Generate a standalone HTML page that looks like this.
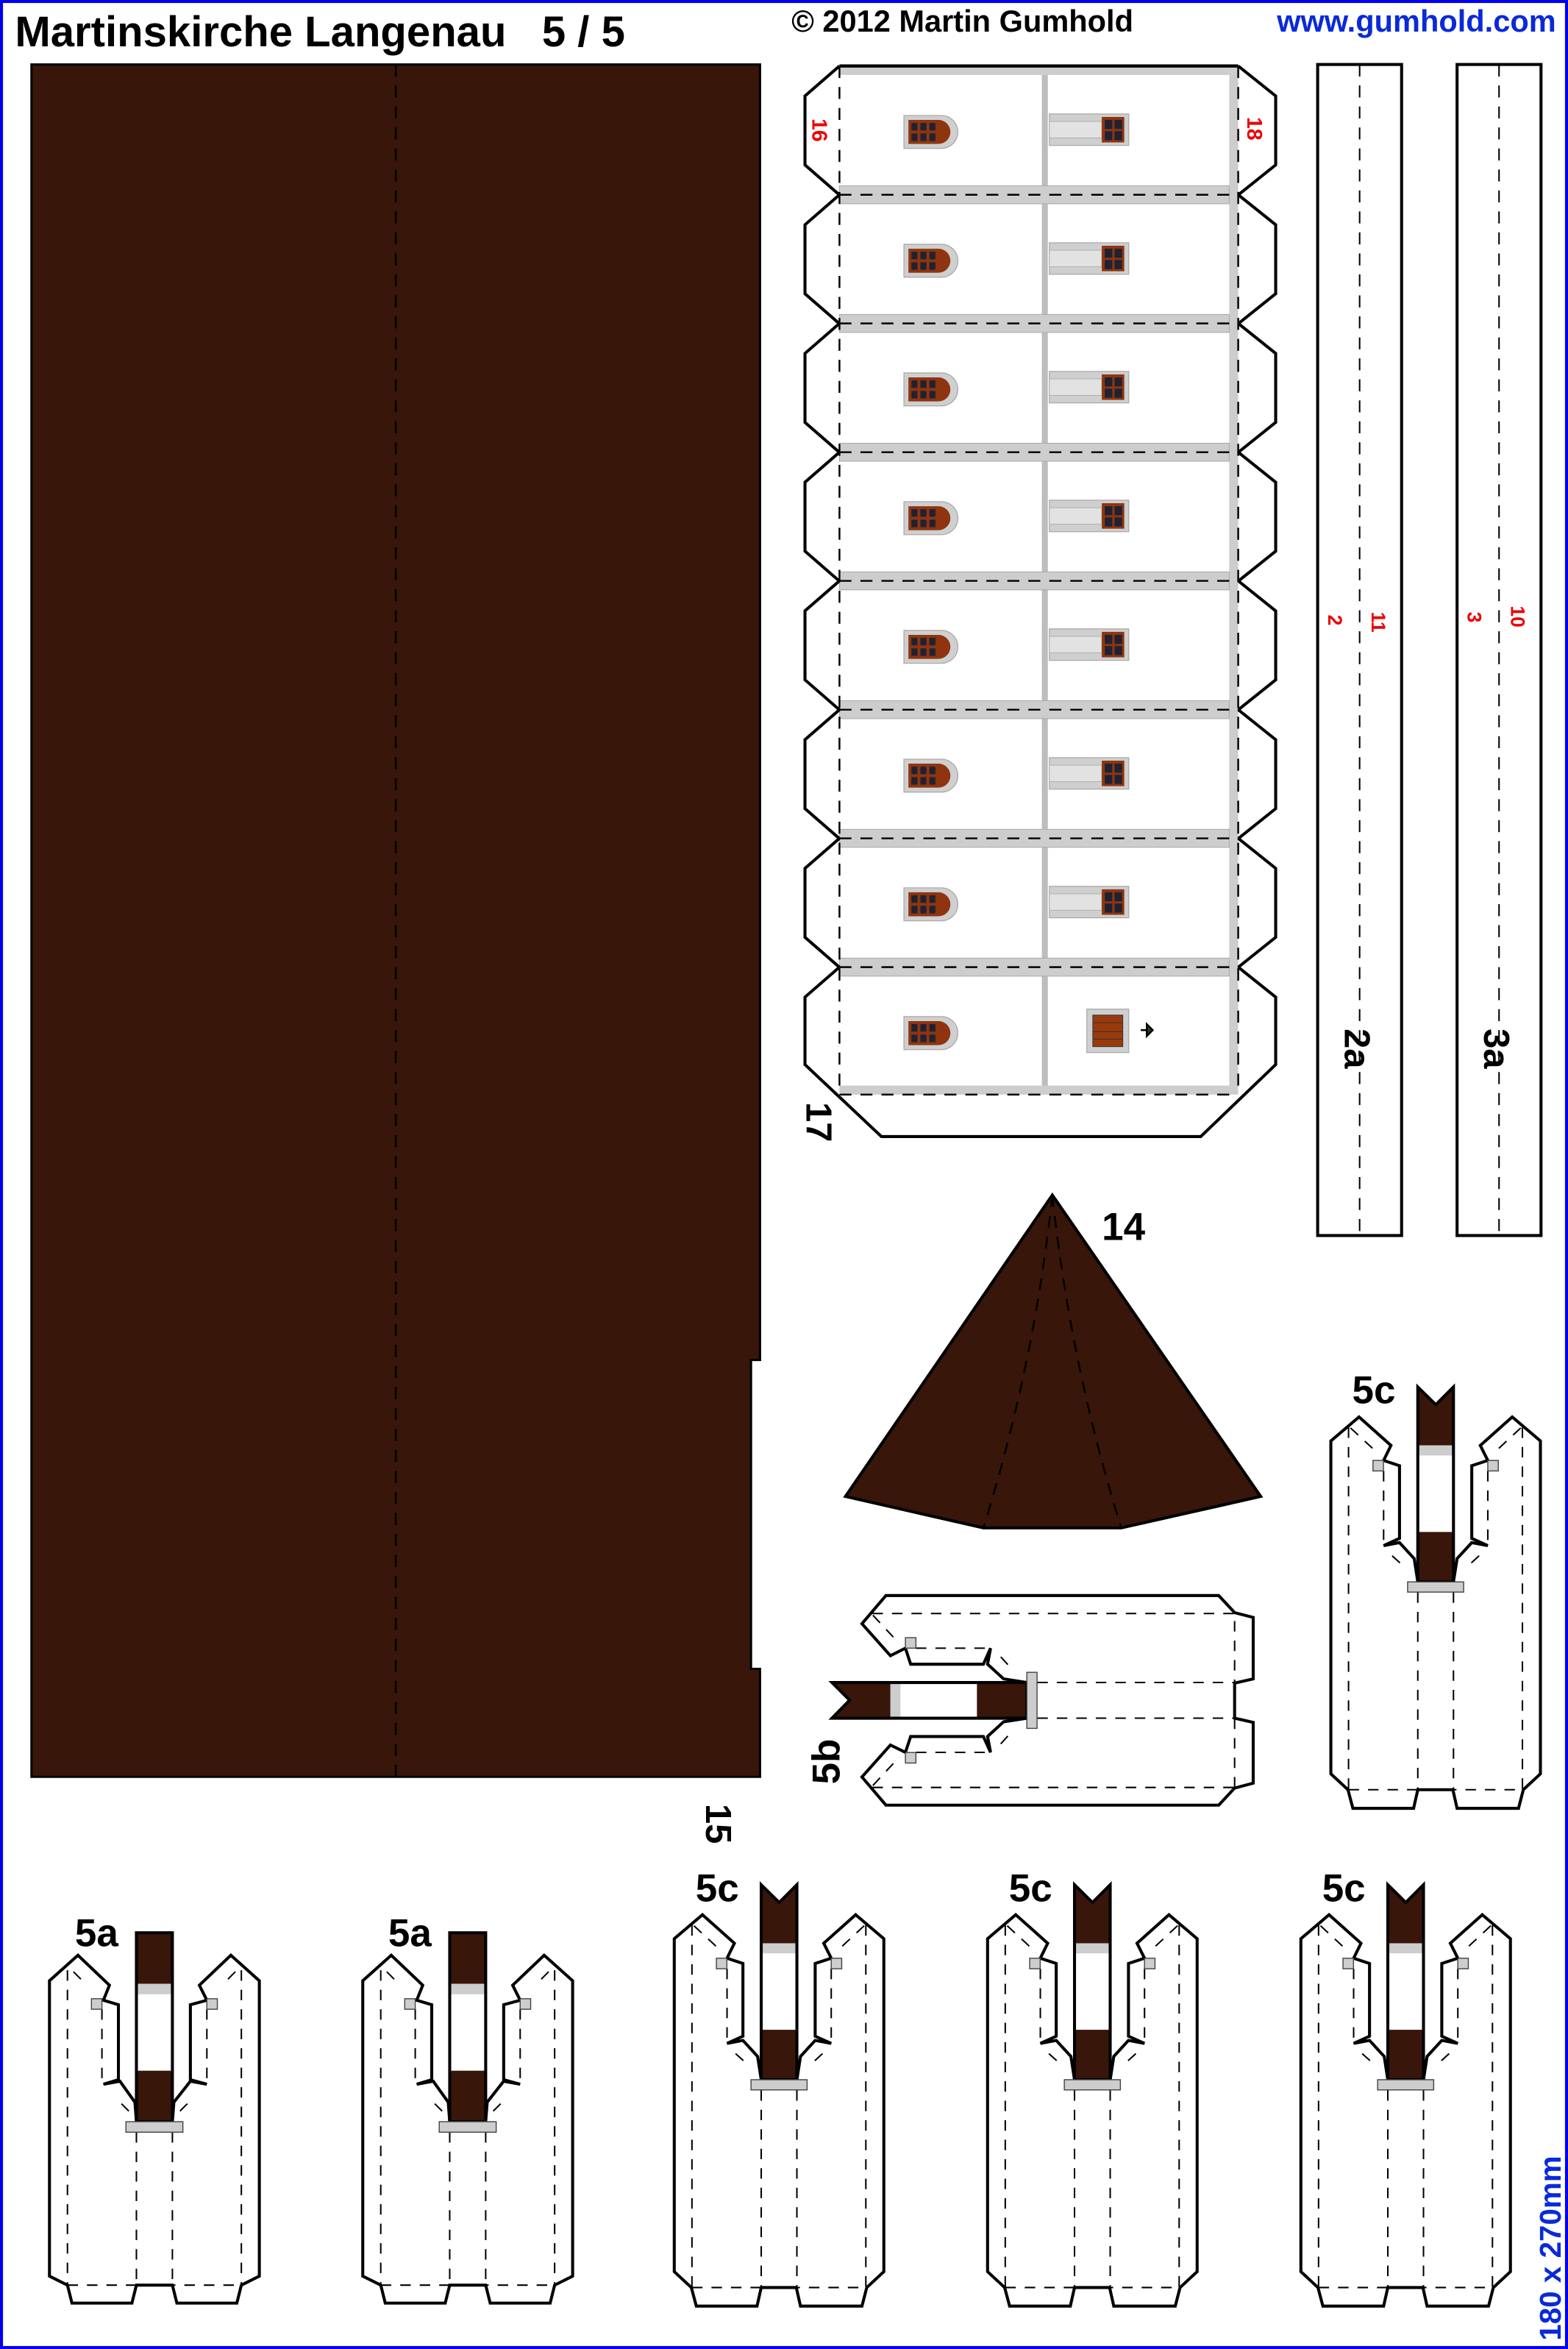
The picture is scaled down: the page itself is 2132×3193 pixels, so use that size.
<!DOCTYPE html>
<html><head><meta charset="utf-8"><style>
html,body{margin:0;padding:0;background:#fff}
svg{display:block}
text{font-family:"Liberation Sans",Arial,sans-serif;font-weight:bold}
</style></head><body>
<svg xmlns="http://www.w3.org/2000/svg" width="2132" height="3193" viewBox="0 0 1046 1566.6" preserveAspectRatio="none">
<defs>
<g id="lwin">
<path d="M603,33 h25 a11,11 0 0 1 0,22 h-25 Z" fill="#cfcfcf" stroke="#a8a8a8" stroke-width="0.6"/>
<path d="M606,36 h20 a8,8 0 0 1 0,16 h-20 Z" fill="#8e3510"/>
<rect x="608" y="38" width="4" height="5" fill="#1e2232"/><rect x="614" y="38" width="4" height="5" fill="#1e2232"/><rect x="620" y="38" width="4" height="5" fill="#1e2232"/>
<rect x="608" y="45" width="4" height="5" fill="#1e2232"/><rect x="614" y="45" width="4" height="5" fill="#1e2232"/><rect x="620" y="45" width="4" height="5" fill="#1e2232"/>
</g>
<g id="rwin">
<rect x="700" y="32" width="53" height="21" fill="#cfcfcf" stroke="#a8a8a8" stroke-width="0.6"/>
<rect x="700" y="37" width="35" height="11" fill="#e2e2e2" stroke="#b0b0b0" stroke-width="0.5"/>
<rect x="735" y="34" width="15" height="17" fill="#8e3510"/>
<rect x="737" y="36" width="5" height="6" fill="#1e2232"/><rect x="743.5" y="36" width="5" height="6" fill="#1e2232"/>
<rect x="737" y="43.5" width="5" height="6" fill="#1e2232"/><rect x="743.5" y="43.5" width="5" height="6" fill="#1e2232"/>
</g>
<g id="band">
<rect x="560" y="-6" width="260" height="12" fill="#cdcdcd" stroke="#aaa" stroke-width="0.5"/>
<line x1="560" y1="0" x2="826" y2="0" stroke="#000" stroke-width="1.2" stroke-dasharray="8,6"/>
</g>
<g id="tabs">
<path d="M560,0 L537,20 L537,66 L560,86" fill="none" stroke="#000" stroke-width="2"/>
<path d="M826,0 L851,20 L851,66 L826,86" fill="none" stroke="#000" stroke-width="2"/>
</g>
<g id="c5">
<path d="M449.8,1293 L468.6,1277 L489.9,1296 L485,1306 L495.6,1309.5 L495.6,1358 L485,1362.8 L495.6,1360.8 L505.4,1371.5 L507.8,1387 L531.6,1387 L534,1371.5 L543.8,1360.8 L554.5,1362.8 L543.8,1358 L543.8,1309.5 L554.5,1306 L549.5,1296 L570.8,1277 L589.6,1293 L589.6,1515 L578.2,1525.6 L575,1538 L534,1538 L531.2,1525.6 L507.8,1525.6 L505,1538 L464.5,1538 L461.2,1525.6 L449.8,1515 Z" fill="#fff" stroke="#000" stroke-width="2" stroke-linejoin="miter"/>
<g stroke="#000" stroke-width="1" stroke-dasharray="7,6" fill="none">
<line x1="461.6" y1="1284" x2="461.6" y2="1525"/>
<line x1="577.6" y1="1284" x2="577.6" y2="1525"/>
<line x1="485" y1="1313" x2="485" y2="1362"/>
<line x1="554.5" y1="1313" x2="554.5" y2="1362"/>
<line x1="507.8" y1="1394" x2="507.8" y2="1525"/>
<line x1="531.6" y1="1394" x2="531.6" y2="1525"/>
<line x1="461.6" y1="1525.6" x2="577.6" y2="1525.6"/>
<line x1="462.9" y1="1284.3" x2="482" y2="1302"/>
<line x1="576.5" y1="1284.3" x2="557.5" y2="1302"/>
<line x1="490.7" y1="1369.6" x2="500" y2="1378"/>
<line x1="548.7" y1="1369.6" x2="539.5" y2="1378"/>
</g>
<rect x="477.9" y="1306" width="7" height="7" fill="#cdcdcd" stroke="#444" stroke-width="0.7"/>
<rect x="554.5" y="1306" width="7" height="7" fill="#cdcdcd" stroke="#444" stroke-width="0.7"/>
<path d="M507.8,1257 L519.8,1268.8 L531.6,1257 L531.6,1296 L507.8,1296 Z" fill="#38160a"/>
<rect x="507.8" y="1296" width="23.8" height="6.7" fill="#cdcdcd"/>
<rect x="507.8" y="1353.7" width="23.8" height="33.3" fill="#38160a"/>
<path d="M507.8,1257 L519.8,1268.8 L531.6,1257 L531.6,1387 L507.8,1387 Z" fill="none" stroke="#000" stroke-width="2"/>
<rect x="501" y="1387" width="37.4" height="6.8" fill="#cdcdcd" stroke="#444" stroke-width="0.7"/>
</g>
<g id="a5">
<path d="M33,1321 L52,1304 L73,1324 L69,1334 L79,1337 L79,1387 L69,1390 L80,1388 L90,1402 L91,1415 L115,1415 L116,1402 L127,1388 L138,1390 L127,1387 L127,1337 L138,1334 L133,1324 L154,1304 L173,1321 L173,1518 L161,1524 L158,1536 L118,1536 L115,1524 L91,1524 L88,1536 L48,1536 L45,1524 L33,1518 Z" fill="#fff" stroke="#000" stroke-width="2"/>
<g stroke="#000" stroke-width="1" stroke-dasharray="7,6" fill="none">
<line x1="45" y1="1314" x2="45" y2="1524"/>
<line x1="161" y1="1314" x2="161" y2="1524"/>
<line x1="68" y1="1340" x2="68" y2="1388"/>
<line x1="138" y1="1340" x2="138" y2="1388"/>
<line x1="91" y1="1422" x2="91" y2="1524"/>
<line x1="115" y1="1422" x2="115" y2="1524"/>
<line x1="45" y1="1524" x2="161" y2="1524"/>
<line x1="49" y1="1315" x2="57" y2="1323"/>
<line x1="157" y1="1315" x2="149" y2="1323"/>
<line x1="81" y1="1403" x2="88" y2="1410"/>
<line x1="125" y1="1403" x2="118" y2="1410"/>
</g>
<rect x="61" y="1333" width="7" height="7" fill="#cdcdcd" stroke="#444" stroke-width="0.7"/>
<rect x="138" y="1333" width="7" height="7" fill="#cdcdcd" stroke="#444" stroke-width="0.7"/>
<rect x="91" y="1289" width="24" height="34" fill="#38160a"/>
<rect x="91" y="1323" width="24" height="7" fill="#cdcdcd"/>
<rect x="91" y="1381" width="24" height="34" fill="#38160a"/>
<rect x="91" y="1289" width="24" height="126" fill="none" stroke="#000" stroke-width="2"/>
<rect x="84" y="1415" width="38" height="7" fill="#cdcdcd" stroke="#444" stroke-width="0.7"/>
</g>
</defs>

<rect x="1" y="1" width="1044" height="1564.6" fill="none" stroke="#0000ee" stroke-width="2"/>

<text x="10" y="31" font-size="28.5" fill="#000">Martinskirche Langenau&#160;&#160;&#160;5 / 5</text>
<text x="528" y="21" font-size="20.4" fill="#000">© 2012 Martin Gumhold</text>
<text x="1038" y="21" font-size="20.4" fill="#0a2ad8" text-anchor="end">www.gumhold.com</text>
<text transform="translate(1041,1561) rotate(-90)" font-size="19.8" fill="#0a2ad8">180 x 270mm</text>

<path d="M21,43 L507,43 L507,907 L501,907 L501,1113 L507,1113 L507,1185 L21,1185 Z" fill="#38160a" stroke="#000" stroke-width="1.5"/>
<line x1="264" y1="43" x2="264" y2="1185" stroke="#000" stroke-width="1.2" stroke-dasharray="8,6"/>
<text transform="translate(471,1203) rotate(90)" font-size="24" fill="#000">15</text>

<path d="M560,730 L588,758 L801,758 L826,730 Z" fill="#fff"/>
<rect x="560" y="44" width="266" height="686" fill="#fff"/>
<rect x="820" y="44" width="6" height="686" fill="#cdcdcd"/>
<rect x="695" y="44" width="4" height="686" fill="#bdbdbd"/>
<rect x="560" y="44" width="260" height="6" fill="#cdcdcd"/>
<rect x="560" y="724" width="260" height="6" fill="#cdcdcd"/>
<use href="#band" transform="translate(0,129.9)"/>
<use href="#band" transform="translate(0,215.7)"/>
<use href="#band" transform="translate(0,301.6)"/>
<use href="#band" transform="translate(0,387.4)"/>
<use href="#band" transform="translate(0,473.3)"/>
<use href="#band" transform="translate(0,559.1)"/>
<use href="#band" transform="translate(0,645)"/>
<line x1="560" y1="730" x2="826" y2="730" stroke="#000" stroke-width="1.2" stroke-dasharray="8,6"/>
<line x1="560" y1="44" x2="560" y2="730" stroke="#000" stroke-width="1.2" stroke-dasharray="8,6"/>
<line x1="826" y1="44" x2="826" y2="730" stroke="#000" stroke-width="1.2" stroke-dasharray="8,6"/>
<line x1="560" y1="44" x2="826" y2="44" stroke="#000" stroke-width="2.2"/>
<use href="#tabs" transform="translate(0,44)"/>
<use href="#tabs" transform="translate(0,129.9)"/>
<use href="#tabs" transform="translate(0,215.7)"/>
<use href="#tabs" transform="translate(0,301.6)"/>
<use href="#tabs" transform="translate(0,387.4)"/>
<use href="#tabs" transform="translate(0,473.3)"/>
<use href="#tabs" transform="translate(0,559.1)"/>
<path d="M560,645 L537,665 L537,710 L588,758 L801,758 L851,710 L851,665 L826,645" fill="none" stroke="#000" stroke-width="2"/>
<g>
<use href="#lwin" transform="translate(0,44)"/><use href="#rwin" transform="translate(0,44)"/>
<use href="#lwin" transform="translate(0,129.9)"/><use href="#rwin" transform="translate(0,129.9)"/>
<use href="#lwin" transform="translate(0,215.7)"/><use href="#rwin" transform="translate(0,215.7)"/>
<use href="#lwin" transform="translate(0,301.6)"/><use href="#rwin" transform="translate(0,301.6)"/>
<use href="#lwin" transform="translate(0,387.4)"/><use href="#rwin" transform="translate(0,387.4)"/>
<use href="#lwin" transform="translate(0,473.3)"/><use href="#rwin" transform="translate(0,473.3)"/>
<use href="#lwin" transform="translate(0,559.1)"/><use href="#rwin" transform="translate(0,559.1)"/>
<use href="#lwin" transform="translate(0,645)"/>
</g>
<rect x="725" y="673" width="28" height="29" fill="#cfcfcf" stroke="#a8a8a8" stroke-width="0.6"/>
<rect x="729" y="677" width="20" height="21" fill="#993a0c" stroke="#333" stroke-width="0.5"/>
<line x1="729" y1="682" x2="749" y2="682" stroke="#333" stroke-width="0.5"/>
<line x1="729" y1="688" x2="749" y2="688" stroke="#333" stroke-width="0.5"/>
<line x1="729" y1="693" x2="749" y2="693" stroke="#333" stroke-width="0.5"/>
<path d="M761,687 h4 M765,683 l4,4 l-4,4 Z" stroke="#000" stroke-width="1.2" fill="#234020"/>
<text transform="translate(542,79) rotate(90)" font-size="14" fill="#e00">16</text>
<text transform="translate(832,78) rotate(90)" font-size="14" fill="#e00">18</text>
<text transform="translate(538,735) rotate(90)" font-size="24" fill="#000">17</text>

<rect x="879" y="43" width="56" height="781" fill="#fff" stroke="#000" stroke-width="2"/>
<rect x="972" y="43" width="56" height="781" fill="#fff" stroke="#000" stroke-width="2"/>
<line x1="907" y1="43" x2="907" y2="824" stroke="#000" stroke-width="1" stroke-dasharray="8,6"/>
<line x1="1000" y1="43" x2="1000" y2="824" stroke="#000" stroke-width="1" stroke-dasharray="8,6"/>
<text transform="translate(897,686) rotate(90)" font-size="24" fill="#000">2a</text>
<text transform="translate(990,686) rotate(90)" font-size="24" fill="#000">3a</text>
<text transform="translate(886,410) rotate(90)" font-size="13" fill="#e00">2</text>
<text transform="translate(915,408) rotate(90)" font-size="13" fill="#e00">11</text>
<text transform="translate(979,408) rotate(90)" font-size="13" fill="#e00">3</text>
<text transform="translate(1008,404) rotate(90)" font-size="13" fill="#e00">10</text>

<polygon points="702,797 841,998 748,1019 656,1019 564,998" fill="#38160a" stroke="#000" stroke-width="2" stroke-linejoin="miter"/>
<path d="M702,797 Q690,910 656,1019 M702,797 Q714,910 748,1019" fill="none" stroke="#000" stroke-width="1.2" stroke-dasharray="8,6"/>
<text x="735" y="827" font-size="26" fill="#000">14</text>

<use href="#c5"/>
<use href="#c5" transform="translate(209,0)"/>
<use href="#c5" transform="translate(418,0)"/>
<use href="#c5" transform="translate(438,-332)"/>
<text x="464" y="1268" font-size="26" fill="#000">5c</text>
<text x="673" y="1268" font-size="26" fill="#000">5c</text>
<text x="882" y="1268" font-size="26" fill="#000">5c</text>
<text x="902" y="936" font-size="26" fill="#000">5c</text>

<use href="#c5" transform="translate(-702,1653.7) rotate(-90)"/>
<text transform="translate(560,1190) rotate(-90)" font-size="26" fill="#000">5b</text>

<use href="#a5"/>
<use href="#a5" transform="translate(209,0)"/>
<text x="50" y="1298" font-size="26" fill="#000">5a</text>
<text x="259" y="1298" font-size="26" fill="#000">5a</text>
</svg>
</body></html>
